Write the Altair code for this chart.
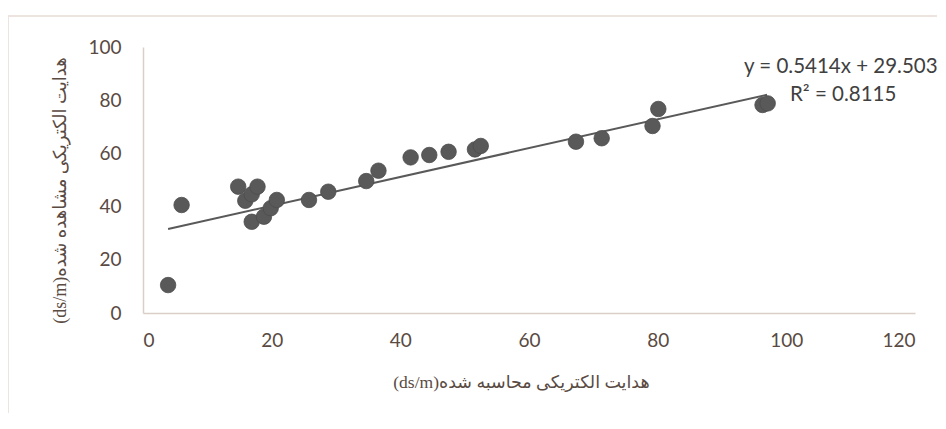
import altair as alt
import pandas as pd

calc_ec = [3.9, 6.0, 14.8, 15.9, 16.9, 17.8, 16.9, 18.8, 19.85, 20.8, 25.8, 28.8, 34.7, 36.6,
           41.6, 44.5, 47.5, 51.6, 52.5, 67.3, 71.3, 79.2, 80.1, 96.3, 97.1]
obs_ec = [10.5, 40.6, 47.5, 42.2, 44.6, 47.5, 34.3, 36.2, 39.4, 42.5, 42.5, 45.6, 49.6, 53.5,
          58.5, 59.4, 60.6, 61.5, 62.8, 64.4, 65.7, 70.3, 76.7, 78.2, 78.8]

# Trend line (Excel linear trendline) as printed on the chart
trend_x = [3.9, 97]
slope = 0.5414
intercept = 29.503
eq_lines = ["y = 0.5414x + 29.503", "R² = 0.8115"]

x_ticks = [0, 20, 40, 60, 80, 100, 120]
y_ticks = [0, 20, 40, 60, 80, 100]

x_title = "(ds/m)" + "هدایت الکتریکی محاسبه شده"
y_title = "(ds/m)" + "هدایت الکتریکی مشاهده شده"

pts = pd.DataFrame({"x": calc_ec, "y": obs_ec})
trend = pd.DataFrame({"x": trend_x})

TXT = "#594a42"
AX = "#d9cfc8"
DOT = "#595959"

xscale = alt.Scale(domain=[0, 120], nice=False)
yscale = alt.Scale(domain=[0, 100], nice=False)

xaxis = alt.Axis(values=x_ticks, grid=False, ticks=False, domainColor=AX, domainWidth=1.5,
                 labelFont="Lato", labelFontSize=19, labelColor=TXT, labelPadding=18,
                 title=x_title, titleFont="Liberation Serif, DejaVu Sans", titleFontSize=17.5,
                 titleFontWeight="normal", titleColor=TXT, titlePadding=23, titleX=378)
yaxis = alt.Axis(values=y_ticks, grid=False, ticks=False, domainColor=AX, domainWidth=1.5,
                 labelFont="Lato", labelFontSize=19, labelColor=TXT, labelPadding=22,
                 title=y_title, titleFont="Liberation Serif, DejaVu Sans", titleFontSize=18,
                 titleFontWeight="normal", titleColor=TXT, titlePadding=18, titleY=143)

points = alt.Chart(pts).mark_circle(size=240, color=DOT, opacity=1, stroke="#4d4d4d", strokeWidth=0.8).encode(
    x=alt.X("x:Q", scale=xscale, axis=xaxis),
    y=alt.Y("y:Q", scale=yscale, axis=yaxis),
)

line = alt.Chart(trend).transform_calculate(
    y=f"{slope} * datum.x + {intercept}"
).mark_line(color="#595959", strokeWidth=2).encode(
    x=alt.X("x:Q", scale=xscale),
    y=alt.Y("y:Q", scale=yscale),
)

eq_df = pd.DataFrame({"t": eq_lines, "px": [601, 647], "py": [20, 48]})
eq = alt.Chart(eq_df).mark_text(align="left", baseline="middle", font="Lato", fontSize=20.5, color="#404040").encode(
    x=alt.X("px:Q", scale=None),
    y=alt.Y("py:Q", scale=None),
    text="t:N",
)

border_left = alt.Chart(pd.DataFrame({"a": [0]})).mark_rule(color="#ede3df", strokeWidth=2).encode(
    x=alt.value(-135), y=alt.value(-31), y2=alt.value(410)
)
border_top = alt.Chart(pd.DataFrame({"a": [0]})).mark_rule(color="#ede3df", strokeWidth=2).encode(
    x=alt.value(-135), x2=alt.value(830), y=alt.value(-31)
)

chart = alt.layer(border_left, border_top, line, points, eq).properties(
    width=772, height=266,
    padding={"left": 135, "top": 39, "right": 22, "bottom": 100},
    autosize="none",
    background="white",
).configure_view(stroke=None)

chart.save("out.html", embed_options={"renderer": "svg", "actions": False})
